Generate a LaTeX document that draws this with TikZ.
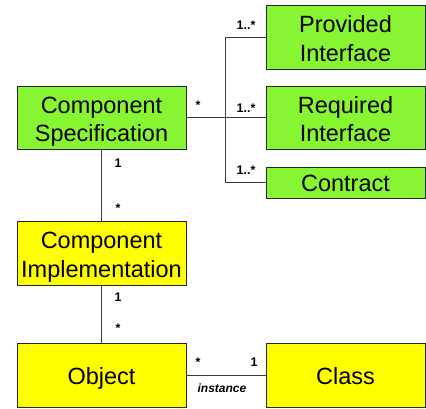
\documentclass[tikz,border=0pt]{standalone}
\usepackage{fontspec}
\setmainfont{Liberation Sans}
\definecolor{boxgreen}{RGB}{135,245,50}
\definecolor{boxyellow}{RGB}{255,255,0}
\definecolor{linegray}{RGB}{60,60,60}
\begin{document}
\begin{tikzpicture}[x=1pt,y=-1pt,
  box/.style={draw=black!85,line width=0.8pt,inner sep=0pt,
    font=\fontsize{23.5}{28.7}\selectfont,align=center},
  two/.style={text height=51pt,text depth=2pt},
  one/.style={text height=20pt,text depth=2pt},
  gbox/.style={box,fill=boxgreen},
  ybox/.style={box,fill=boxyellow},
  conn/.style={draw=linegray,line width=0.8pt},
  mult/.style={font=\fontsize{12.5}{14}\selectfont\bfseries,inner sep=0pt}]
\useasboundingbox (0,0) rectangle (426,409);
% boxes
\node[gbox,two,minimum width=159pt,minimum height=64pt] (pi) at (345.5,37) {Provided\\Interface};
\node[gbox,two,minimum width=159pt,minimum height=63pt] (ri) at (345.5,117.5) {Required\\Interface};
\node[gbox,one,minimum width=159pt,minimum height=31pt] (ct) at (345.5,182.5) {Contract};
\node[gbox,two,minimum width=169pt,minimum height=63pt] (cs) at (101.5,117.5) {Component\\Specification};
\node[ybox,two,minimum width=169pt,minimum height=64pt] (ci) at (101.5,253) {Component\\Implementation};
\node[ybox,one,minimum width=169pt,minimum height=64pt] (ob) at (101.5,375) {Object};
\node[ybox,one,minimum width=159pt,minimum height=64pt] (cl) at (345.5,375) {Class};
% connectors
\coordinate (tr) at (225.5,117.5);
\draw[conn] (cs.east) -- (ri.west);
\draw[conn] (pi.west) -| (tr);
\draw[conn] (ct.west) -| (tr);
\draw[conn] (cs.south) -- (ci.north);
\draw[conn] (ci.south) -- (ob.north);
\draw[conn] (ob.east) -- (cl.west);
% multiplicities
\node[mult] (m1) at (246,25) {1..*};
\node[mult] (m2) at (246,108) {1..*};
\node[mult] (m3) at (246,170) {1..*};
\node[mult] (m4) at (198,105) {*};
\node[mult] (m5) at (118,163) {1};
\node[mult] (m6) at (118,208) {*};
\node[mult] (m7) at (118,297) {1};
\node[mult] (m8) at (118,328) {*};
\node[mult] (m9) at (198,362) {*};
\node[mult] (m10) at (254,362) {1};
\node[mult,font=\fontsize{12}{13}\selectfont\bfseries\itshape] (inst) at (222,388) {instance};
\end{tikzpicture}
\end{document}
